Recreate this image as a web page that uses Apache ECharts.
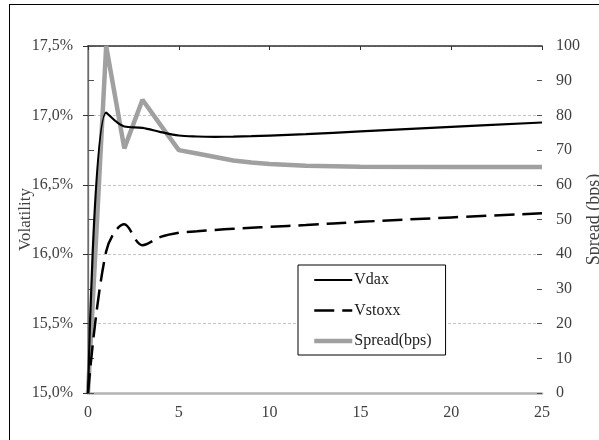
<!DOCTYPE html>
<html>
<head>
<meta charset="utf-8">
<script src="https://cdn.jsdelivr.net/npm/echarts@6/dist/echarts.min.js"></script>
<style>
html,body{margin:0;padding:0;background:#fff;overflow:hidden;}
#c{width:599px;height:440px;}
</style>
</head>
<body>
<div id="c"></div>
<script>
// Data
const years  = [0, 1, 2, 3, 4, 5, 6, 7, 8, 9, 10, 12, 15, 20, 25];
const vdax   = [15.0, 17.02, 16.92, 16.91, 16.88, 16.855, 16.848, 16.846, 16.847, 16.85, 16.855, 16.865, 16.885, 16.917, 16.949];
const vstoxx = [15.0, 16.02, 16.215, 16.065, 16.125, 16.155, 16.165, 16.175, 16.183, 16.19, 16.197, 16.21, 16.233, 16.265, 16.295];
const spread = [0, 100, 70.5, 84.5, 77.2, 70, 69, 68, 67, 66.4, 66, 65.5, 65.2, 65.1, 65.1];
const seriesNames = ['Vdax', 'Vstoxx', 'Spread(bps)'];
const leftTicks = {min: 15, max: 17.5, interval: 0.5};
const rightTicks = {min: 0, max: 100, interval: 10};
const xTicks = {min: 0, max: 25, interval: 5};

const pairs = (ys) => years.map((x, i) => [x, ys[i]]);
const FONT = 'Liberation Serif';
const TXT = '#404040';

const chart = echarts.init(document.getElementById('c'), null, {renderer: 'canvas'});
chart.setOption({
  animation: false,
  backgroundColor: '#fff',
  textStyle: {fontFamily: FONT},
  grid: {left: 88, right: 57, top: 46, bottom: 47, containLabel: false, outerBoundsMode: 'none'},
  legend: {
    orient: 'vertical',
    left: 298, top: 265,
    padding: [7, 14, 6, 14],
    itemWidth: 38, itemHeight: 14, itemGap: 14.5,
    borderColor: '#000', borderWidth: 1, backgroundColor: '#fff',
    itemStyle: {opacity: 0},
    lineStyle: {width: 'inherit'},
    textStyle: {fontFamily: FONT, fontSize: 16, color: '#1a1a1a', padding: [0, 0, 0, -3]},
    data: seriesNames
  },
  xAxis: [
    {
      type: 'value', position: 'bottom', min: xTicks.min, max: xTicks.max, interval: xTicks.interval,
      axisLine: {show: true, lineStyle: {color: '#b4b4b4', width: 2.5}},
      axisTick: {show: false},
      splitLine: {show: false},
      axisLabel: {fontFamily: FONT, fontSize: 16, color: TXT, margin: 12}
    },
    {
      type: 'value', position: 'top', min: xTicks.min, max: xTicks.max, interval: xTicks.interval,
      axisLine: {show: true, onZero: false, lineStyle: {color: '#303030', width: 1.5}},
      axisTick: {show: true, inside: true, length: 4, lineStyle: {color: '#303030'}},
      splitLine: {show: false},
      axisLabel: {show: false}
    }
  ],
  yAxis: [
    {
      type: 'value', position: 'left', min: leftTicks.min, max: leftTicks.max, interval: leftTicks.interval,
      name: 'Volatility', nameLocation: 'middle', nameGap: 54, nameRotate: 90, nameMoveOverlap: false,
      nameTextStyle: {fontFamily: FONT, fontSize: 17, color: TXT},
      axisLine: {show: true, lineStyle: {color: '#303030', width: 1.2}},
      axisTick: {show: true, length: 5, lineStyle: {color: '#303030'}},
      splitLine: {show: true, lineStyle: {color: '#c4c4c4', width: 1, type: [3, 2]}},
      axisLabel: {fontFamily: FONT, fontSize: 16, color: TXT, margin: 15,
        formatter: v => v.toFixed(1).replace('.', ',') + '%'}
    },
    {
      type: 'value', position: 'right', min: rightTicks.min, max: rightTicks.max, interval: rightTicks.interval,
      name: 'Spread (bps)', nameLocation: 'middle', nameGap: 43, nameRotate: 90, nameMoveOverlap: false,
      nameTextStyle: {fontFamily: FONT, fontSize: 18, color: TXT},
      axisLine: {show: true, lineStyle: {color: '#808080', width: 1.5}},
      axisTick: {show: true, length: 6, lineStyle: {color: '#505050'}},
      splitLine: {show: false},
      axisLabel: {fontFamily: FONT, fontSize: 16, color: TXT, margin: 14}
    },
    {
      type: 'value', position: 'right', min: rightTicks.min, max: rightTicks.max, interval: rightTicks.interval,
      axisLine: {show: false},
      axisTick: {show: true, inside: true, length: 5, lineStyle: {color: '#505050'}},
      splitLine: {show: false},
      axisLabel: {show: false}
    }
  ],
  series: [
    {
      name: seriesNames[0], type: 'line', xAxisIndex: 0, yAxisIndex: 0,
      data: pairs(vdax), smooth: 0.35, symbol: 'none', showSymbol: false,
      lineStyle: {color: '#000', width: 2.2}, itemStyle: {color: '#000'}, z: 3
    },
    {
      name: seriesNames[1], type: 'line', xAxisIndex: 0, yAxisIndex: 0,
      data: pairs(vstoxx), smooth: 0.35, symbol: 'none', showSymbol: false,
      lineStyle: {color: '#000', width: 2.5, type: [20, 8]}, itemStyle: {color: '#000'}, z: 3
    },
    {
      name: seriesNames[2], type: 'line', xAxisIndex: 0, yAxisIndex: 1,
      data: pairs(spread), smooth: false, symbol: 'none', showSymbol: false,
      lineStyle: {color: '#a0a0a0', width: 4.5}, itemStyle: {color: '#a0a0a0'}, z: 2
    }
  ],
  graphic: [
    {type: 'line', shape: {x1: 9, y1: 4.5, x2: 599, y2: 4.5}, style: {stroke: '#000', lineWidth: 1}, silent: true},
    {type: 'line', shape: {x1: 9.5, y1: 4, x2: 9.5, y2: 440}, style: {stroke: '#000', lineWidth: 1}, silent: true}
  ]
});
</script>
</body>
</html>
